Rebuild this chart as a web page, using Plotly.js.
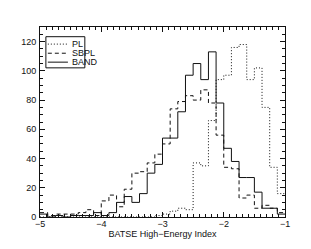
<!DOCTYPE html>
<html><head><meta charset="utf-8">
<script src="https://cdn.plot.ly/plotly-3.0.1.min.js"></script>
<style>html,body{margin:0;padding:0;background:#fff}#plot{width:311px;height:249px}</style>
</head><body><div id="plot"></div>
<script>
// bin edges of the histograms (BATSE high-energy index), 0.125 wide
const binEdges = [-5, -4.875, -4.75, -4.625, -4.5, -4.375, -4.25, -4.125,
  -4, -3.875, -3.75, -3.625, -3.5, -3.375, -3.25, -3.125,
  -3, -2.875, -2.75, -2.625, -2.5, -2.375, -2.25, -2.125,
  -2, -1.875, -1.75, -1.625, -1.5, -1.375, -1.25, -1.125, -1];
// counts per bin
const countsPL   = [0,0,0,0,0,0,0,0,0,0,0,0,0,0,0,1,2,4,6,5,37,35,66,94,97,116,118,94,102,75,34,16];
const countsSBPL = [3,1,2,2,2,3,5,1,11,15,7,19,30,31,37,43,50,74,79,83,80,87,78,56,34,33,13,15,6,8,6,3];
const countsBAND = [2,0,1,0,1,1,1,3,1,3,10,14,10,16,30,36,54,54,72,97,105,94,113,78,47,38,27,27,17,6,6,2];
const seriesNames = ["PL", "SBPL", "BAND"];
const xTitle = "BATSE High\u2212Energy Index";

const dashes = ["1px,2px", "4px,3px", "solid"];
const allCounts = [countsPL, countsSBPL, countsBAND];

const traces = allCounts.map((c, i) => ({
  x: binEdges,
  y: c.concat([c[c.length - 1]]),
  type: "scatter", mode: "lines",
  line: {shape: "hv", color: "#111", width: 1, dash: dashes[i]},
  name: seriesNames[i], showlegend: false, hoverinfo: "skip"
}));

// manual legend (box, sample lines, labels) in paper coordinates
const legRows = [0.910, 0.862, 0.815];
const shapes = [{type: "rect", xref: "paper", yref: "paper", x0: 0.024, x1: 0.183, y0: 0.785, y1: 0.949,
  line: {color: "#111", width: 1}, fillcolor: "rgba(0,0,0,0)"}];
const annotations = [];
seriesNames.forEach((n, i) => {
  shapes.push({type: "line", xref: "paper", yref: "paper", x0: 0.032, x1: 0.114, y0: legRows[i], y1: legRows[i],
    line: {color: "#111", width: 1, dash: dashes[i]}});
  annotations.push({xref: "paper", yref: "paper", x: 0.122, y: legRows[i], xanchor: "left", yanchor: "middle",
    text: n, showarrow: false, font: {size: 9, color: "#111"}});
});

const axisCommon = {
  showline: true, linecolor: "#111", linewidth: 1, mirror: "allticks",
  ticks: "inside", ticklen: 5, tickwidth: 1, tickcolor: "#111",
  showgrid: false, zeroline: false, tickfont: {size: 9, color: "#111"}
};

const layout = {
  width: 311, height: 249,
  margin: {l: 40, r: 26, t: 27, b: 32},
  paper_bgcolor: "#fff", plot_bgcolor: "#fff",
  font: {family: "Liberation Sans, Arial, sans-serif", size: 9, color: "#111"},
  xaxis: Object.assign({}, axisCommon, {
    range: [-5, -1], dtick: 1, tick0: -5, ticklabelstandoff: -2,
    minor: {dtick: 0.1, ticks: "inside", ticklen: 3, tickcolor: "#111", showgrid: false},
    title: {text: xTitle, font: {size: 9}, standoff: 0}
  }),
  yaxis: Object.assign({}, axisCommon, {
    range: [0, 130], dtick: 20, tick0: 0, ticklabelstandoff: 1,
    minor: {dtick: 5, ticks: "inside", ticklen: 3, tickcolor: "#111", showgrid: false}
  }),
  shapes: shapes, annotations: annotations, showlegend: false
};

Plotly.newPlot("plot", traces, layout, {displayModeBar: false, staticPlot: true});
</script></body></html>
